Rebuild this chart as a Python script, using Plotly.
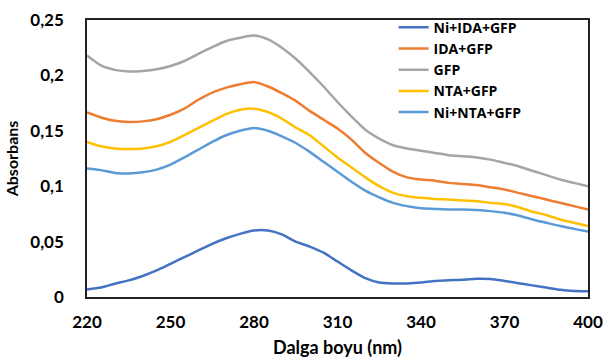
import plotly.graph_objects as go

wavelength = [220, 225, 230, 235, 240, 245, 250, 255, 260, 265, 270, 275, 280, 285, 290, 295,
              300, 305, 310, 315, 320, 325, 330, 335, 340, 345, 350, 355, 360, 365, 370, 375,
              380, 385, 390, 395, 400]

ni_ida_gfp = [0.0067, 0.0085, 0.012, 0.015, 0.019, 0.024, 0.030, 0.036, 0.042, 0.048, 0.053, 0.057,
              0.060, 0.060, 0.0565, 0.050, 0.0455, 0.040, 0.032, 0.024, 0.017, 0.013, 0.0122, 0.0122,
              0.013, 0.0145, 0.0152, 0.0155, 0.0165, 0.0163, 0.0145, 0.0125, 0.0105, 0.0085, 0.0065,
              0.0055, 0.0053]

ida_gfp = [0.1665, 0.162, 0.159, 0.158, 0.1585, 0.1605, 0.1645, 0.170, 0.178, 0.1845, 0.189, 0.192,
           0.194, 0.190, 0.184, 0.177, 0.168, 0.160, 0.152, 0.142, 0.130, 0.121, 0.113, 0.108,
           0.106, 0.105, 0.103, 0.102, 0.101, 0.099, 0.097, 0.094, 0.091, 0.088, 0.085, 0.082, 0.079]

gfp = [0.218, 0.209, 0.205, 0.2035, 0.204, 0.2055, 0.2085, 0.213, 0.2195, 0.2255, 0.231, 0.234,
       0.236, 0.2325, 0.225, 0.215, 0.203, 0.190, 0.176, 0.163, 0.151, 0.143, 0.137, 0.134,
       0.132, 0.130, 0.128, 0.127, 0.126, 0.124, 0.121, 0.118, 0.114, 0.110, 0.106, 0.103, 0.100]

nta_gfp = [0.140, 0.136, 0.134, 0.1335, 0.134, 0.136, 0.140, 0.146, 0.1525, 0.159, 0.165, 0.169,
           0.170, 0.167, 0.161, 0.153, 0.146, 0.136, 0.126, 0.117, 0.108, 0.100, 0.094, 0.091,
           0.0895, 0.0885, 0.088, 0.087, 0.0865, 0.085, 0.084, 0.081, 0.077, 0.074, 0.070, 0.067, 0.064]

ni_nta_gfp = [0.116, 0.1145, 0.112, 0.1115, 0.1125, 0.115, 0.1195, 0.126, 0.133, 0.140, 0.146, 0.150,
              0.1525, 0.150, 0.145, 0.139, 0.131, 0.122, 0.113, 0.104, 0.096, 0.090, 0.085, 0.082,
              0.080, 0.0795, 0.079, 0.079, 0.0785, 0.0775, 0.076, 0.0735, 0.070, 0.067, 0.064, 0.0615, 0.059]

series_names = ["Ni+IDA+GFP", "IDA+GFP", "GFP", "NTA+GFP", "Ni+NTA+GFP"]
series_values = [ni_ida_gfp, ida_gfp, gfp, nta_gfp, ni_nta_gfp]
series_colors = ["#4472C4", "#ED7D31", "#A5A5A5", "#FFC000", "#5B9BD5"]

x_ticks = [220, 250, 280, 310, 340, 370, 400]
y_ticks = [0, 0.05, 0.1, 0.15, 0.2, 0.25]
y_ticklabels = ["0", "0,05", "0,1", "0,15", "0,2", "0,25"]

FONT = "Lato"

fig = go.Figure()
for name, vals, col in zip(series_names, series_values, series_colors):
    fig.add_trace(go.Scatter(x=wavelength, y=vals, name=name, mode="lines",
                             line=dict(color=col, width=2.5, shape="spline", smoothing=0.6)))

fig.update_layout(
    width=605, height=360,
    margin=dict(l=87, r=17, t=16, b=63),
    paper_bgcolor="white", plot_bgcolor="white",
    font=dict(family=FONT, color="#000000"),
    showlegend=True,
    legend=dict(x=0.612, y=1.03, xanchor="left", yanchor="top",
                bgcolor="rgba(0,0,0,0)", font=dict(family="Open Sans", size=14, weight="bold"),
                tracegroupgap=0, itemwidth=30),
    xaxis=dict(range=[220, 400], tickmode="array", tickvals=x_ticks,
               ticktext=[str(v) for v in x_ticks], automargin=False,
               showgrid=False, zeroline=False, showline=True, linecolor="#222222", linewidth=1.5,
               mirror=True, ticks="", ticklabelstandoff=9,
               tickfont=dict(family=FONT, size=17, weight="bold"),
               title=dict(text="Dalga boyu (nm)", font=dict(family=FONT, size=18, weight="bold"),
                          standoff=10)),
    yaxis=dict(range=[0, 0.25], tickmode="array", tickvals=y_ticks, ticktext=y_ticklabels,
               automargin=False,
               showgrid=False, zeroline=False, showline=True, linecolor="#222222", linewidth=1.5,
               mirror=True, ticks="", ticklabelstandoff=18,
               tickfont=dict(family=FONT, size=17, weight="bold"),
               title=dict(text="Absorbans", font=dict(family=FONT, size=16, weight="bold"),
                          standoff=8)),
)

fig.write_html("out.html", config={"displayModeBar": False},
               post_script="document.body.style.margin='0';")
